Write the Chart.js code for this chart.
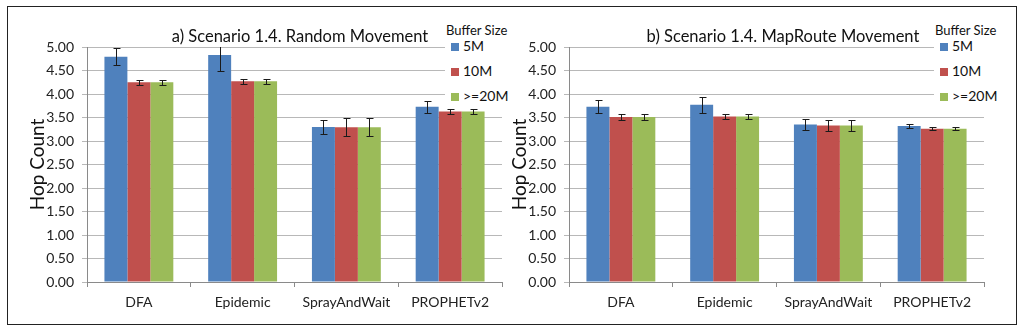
<!DOCTYPE html>
<html>
<head>
<meta charset="utf-8">
<script src="https://cdn.jsdelivr.net/npm/chart.js@4.4.1/dist/chart.umd.min.js"></script>
<style>
    body { margin: 0; background: #fff; font-family: Lato, "Open Sans", sans-serif; }
    #frame { position: absolute; left: 7px; top: 6px; width: 1008px; height: 317px; border: 1px solid #222; }
    canvas { position: absolute; top: 7px; }
    .title { position: absolute; top: 26px; font-size: 16.5px; color: #111; white-space: nowrap; transform: translateX(-50%); }
    .legend { position: absolute; top: 20px; width: 68px; height: 86px; background: #fff; color: #111; }
    .legend .head { font-size: 13px; position: absolute; top: 2px; left: 1px; white-space: nowrap; }
    .legend .item { position: absolute; left: 6px; font-size: 14px; white-space: nowrap; line-height: 16px; }
    .legend .box { display: inline-block; width: 8px; height: 8px; margin-right: 4px; vertical-align: 0px; }
</style>
</head>
<body>
<div id="frame"></div>
<canvas id="chartA" width="504" height="317" style="left:8px"></canvas>
<canvas id="chartB" width="504" height="317" style="left:490px"></canvas>
<div class="title" style="left:300px">a) Scenario 1.4. Random Movement</div>
<div class="title" style="left:783px">b) Scenario 1.4. MapRoute Movement</div>
<div class="legend" id="legendA" style="left:445px"></div>
<div class="legend" id="legendB" style="left:934px"></div>
<script>
    const categories = ['DFA', 'Epidemic', 'SprayAndWait', 'PROPHETv2'];
    const bufferSizes = ['5M', '10M', '>=20M'];
    const colors = ['#4F81BD', '#C0504D', '#9BBB59'];

    // a) Random Movement
    const random5M = [4.79, 4.83, 3.30, 3.73];
    const random10M = [4.25, 4.27, 3.29, 3.63];
    const random20M = [4.25, 4.27, 3.29, 3.63];
    const randomErr5M = [0.18, 0.34, 0.15, 0.13];
    const randomErr10M = [0.05, 0.055, 0.19, 0.045];
    const randomErr20M = [0.05, 0.055, 0.19, 0.045];

    // b) MapRoute Movement
    const map5M = [3.73, 3.77, 3.35, 3.32];
    const map10M = [3.51, 3.52, 3.33, 3.26];
    const map20M = [3.51, 3.52, 3.33, 3.26];
    const mapErr5M = [0.14, 0.175, 0.12, 0.035];
    const mapErr10M = [0.055, 0.06, 0.125, 0.03];
    const mapErr20M = [0.055, 0.06, 0.125, 0.03];

    const yTicks = [0, 0.5, 1, 1.5, 2, 2.5, 3, 3.5, 4, 4.5, 5];

    Chart.defaults.font.family = 'Lato, "Open Sans", sans-serif';
    Chart.defaults.color = '#222';

    const errorBars = {
        id: 'errorBars',
        afterDatasetsDraw(chart) {
            const ctx = chart.ctx;
            const y = chart.scales.y;
            const area = chart.chartArea;
            ctx.save();
            ctx.beginPath();
            ctx.rect(area.left, area.top, area.right - area.left, area.bottom - area.top);
            ctx.clip();
            ctx.strokeStyle = '#1a1a1a';
            ctx.lineWidth = 1;
            chart.data.datasets.forEach((ds, i) => {
                const meta = chart.getDatasetMeta(i);
                meta.data.forEach((bar, j) => {
                    const v = ds.data[j];
                    const e = ds.errors[j];
                    const x = Math.round(bar.x) + 0.5;
                    const top = Math.round(y.getPixelForValue(v + e)) + 0.5;
                    const bot = Math.round(y.getPixelForValue(v - e)) + 0.5;
                    ctx.beginPath();
                    ctx.moveTo(x, top);
                    ctx.lineTo(x, bot);
                    ctx.moveTo(x - 3, top);
                    ctx.lineTo(x + 4, top);
                    ctx.moveTo(x - 3, bot);
                    ctx.lineTo(x + 4, bot);
                    ctx.stroke();
                });
            });
            ctx.restore();
        }
    };

    function makeChart(id, series, errors) {
        return new Chart(document.getElementById(id), {
            type: 'bar',
            data: {
                labels: categories,
                datasets: bufferSizes.map((name, i) => ({
                    label: name,
                    data: series[i],
                    errors: errors[i],
                    backgroundColor: colors[i],
                    borderWidth: 0,
                    barPercentage: 1,
                    categoryPercentage: 0.664
                }))
            },
            options: {
                responsive: false,
                animation: false,
                layout: { padding: { top: 40, right: 10, left: 0, bottom: 0 } },
                plugins: {
                    legend: { display: false },
                    title: { display: false },
                    tooltip: { enabled: false }
                },
                scales: {
                    x: {
                        grid: {
                            display: true,
                            drawOnChartArea: false,
                            color: '#8a8a8a',
                            tickLength: 5,
                            offset: true
                        },
                        border: { color: '#8a8a8a' },
                        ticks: { font: { size: 14 }, padding: 7, color: '#222' },
                        afterFit(scale) { scale.height = 42; }
                    },
                    y: {
                        min: 0,
                        max: 5,
                        afterBuildTicks(scale) {
                            scale.ticks = yTicks.map(v => ({ value: v }));
                        },
                        grid: { color: '#b8b8b8', tickLength: 5 },
                        border: { color: '#8a8a8a' },
                        ticks: {
                            font: { size: 14 },
                            padding: 8,
                            color: '#222',
                            callback: v => v.toFixed(2)
                        },
                        title: {
                            display: true,
                            text: 'Hop Count',
                            font: { size: 19 },
                            color: '#111',
                            padding: { top: 18, bottom: 0 }
                        },
                        afterFit(scale) { scale.width = 79; }
                    }
                }
            },
            plugins: [errorBars]
        });
    }

    function makeLegend(id) {
        const el = document.getElementById(id);
        let html = '<div class="head">Buffer Size</div>';
        bufferSizes.forEach((name, i) => {
            html += '<div class="item" style="top:' + (18 + i * 25) + 'px"><span class="box" style="background:' + colors[i] + '"></span>' + name + '</div>';
        });
        el.innerHTML = html;
    }

    makeChart('chartA', [random5M, random10M, random20M], [randomErr5M, randomErr10M, randomErr20M]);
    makeChart('chartB', [map5M, map10M, map20M], [mapErr5M, mapErr10M, mapErr20M]);
    makeLegend('legendA');
    makeLegend('legendB');
</script>
</body>
</html>
